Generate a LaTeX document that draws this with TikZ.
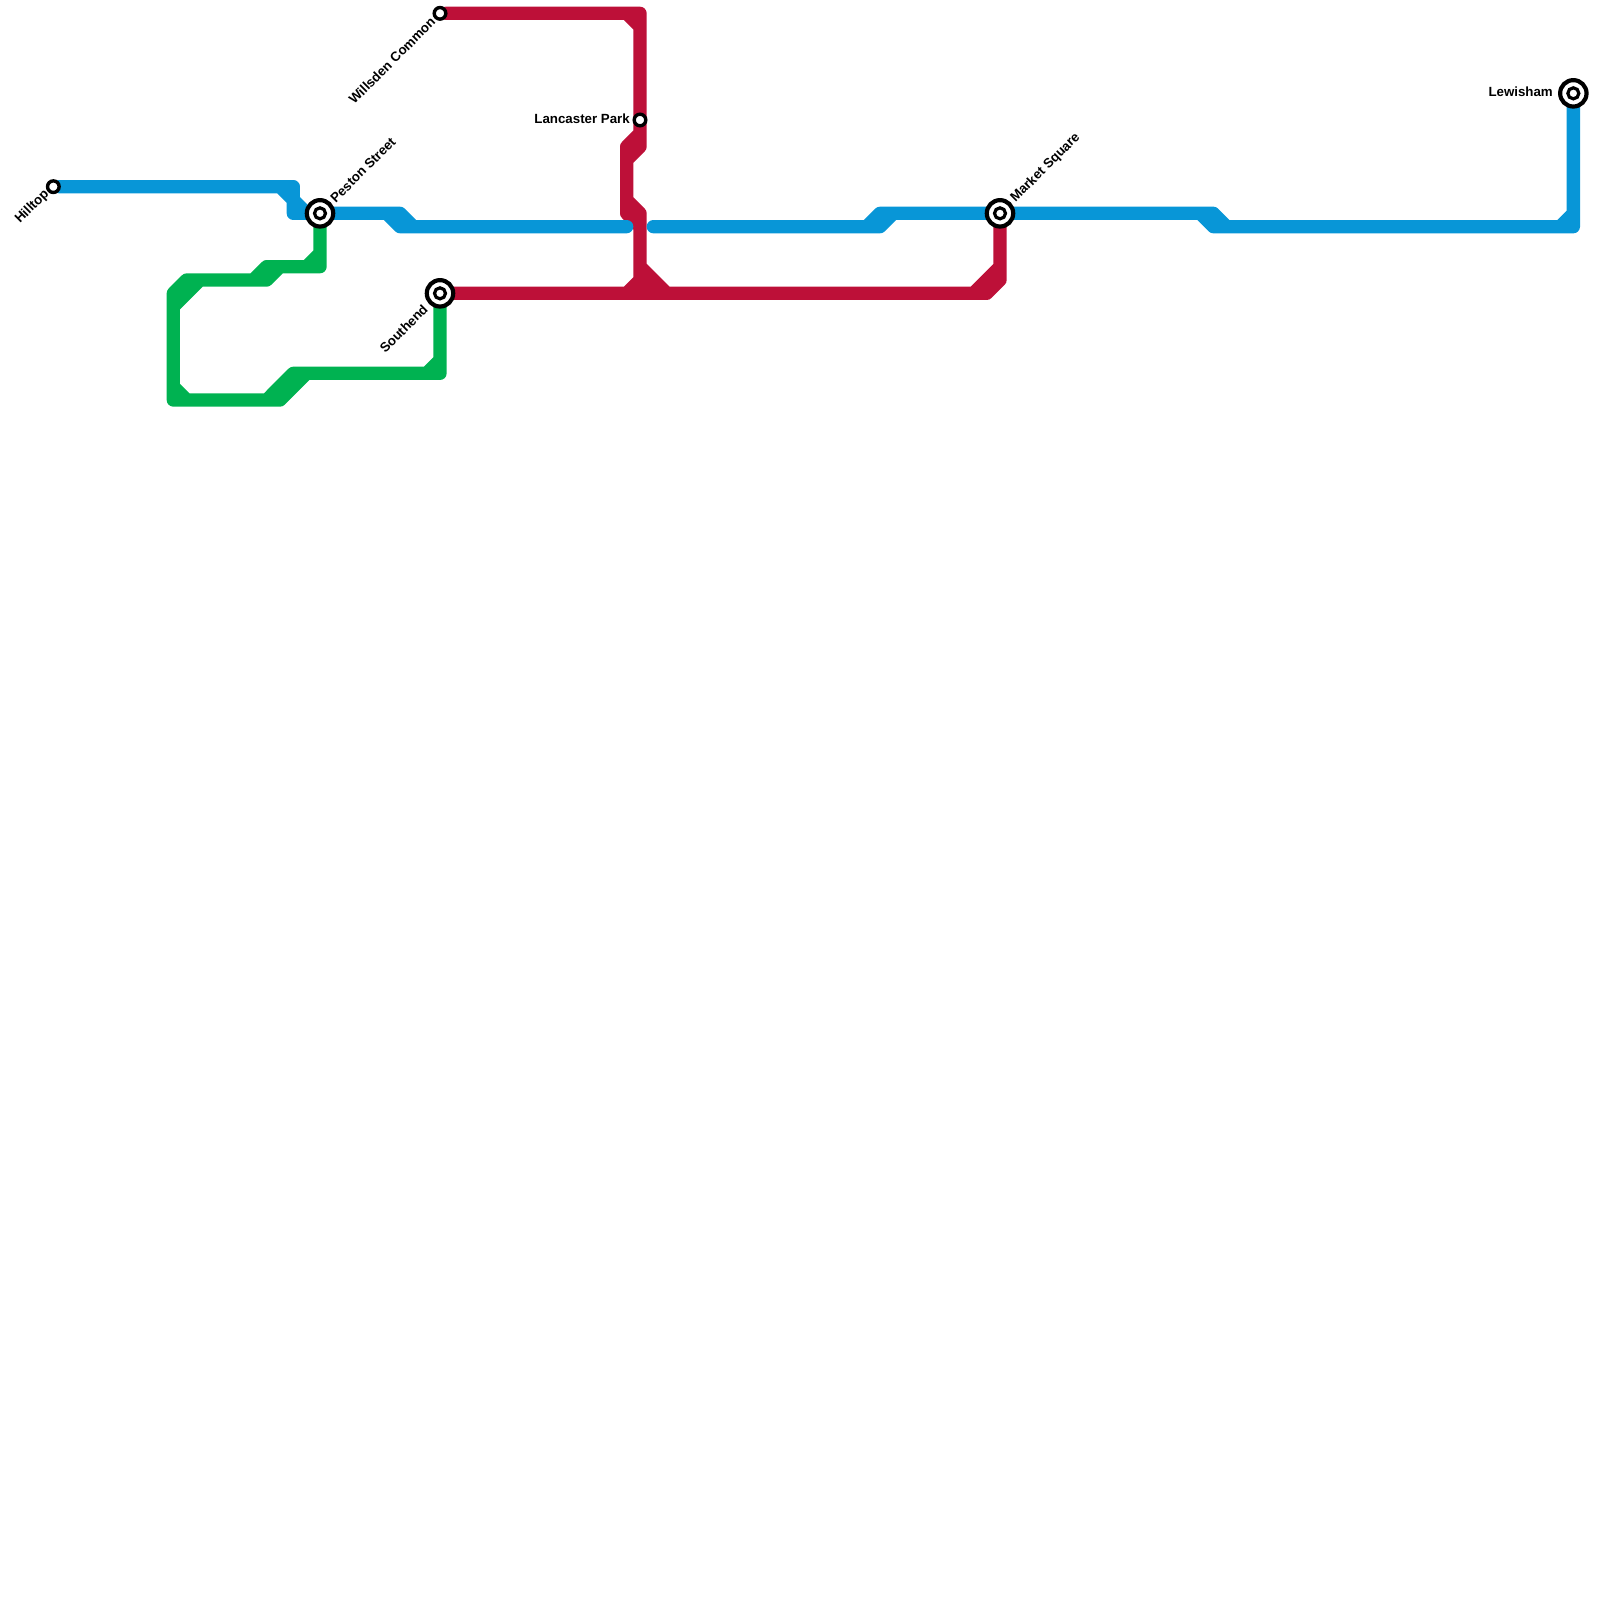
\documentclass[tikz,border=0pt]{standalone}
\usepackage{fontspec}
\setmainfont{Liberation Sans}
\usepackage{xcolor}
\usetikzlibrary{backgrounds}
\definecolor{blueCol}{RGB}{8,150,215}
\definecolor{greenCol}{RGB}{0,178,81}
\definecolor{redCol}{RGB}{189,16,56}
\tikzset{
  route/.style={line width=13.33pt, line cap=round, line join=round},
  halt/.style={circle, draw=black, fill=white, line width=3.4pt, inner sep=0pt, outer sep=0pt, minimum size=11.6pt},
  hub/.style={circle, draw=black, fill=white, line width=4.2pt, inner sep=0pt, outer sep=0pt, minimum size=26.4pt,
              path picture={\draw[black, line width=3.2pt] (path picture bounding box.center) circle (5.5pt);}},
  lbl/.style={font=\fontsize{13.3}{15}\selectfont\bfseries, inner sep=0pt, text=black},
}

\begin{document}
\begin{tikzpicture}[x=1pt,y=-1pt]
  \useasboundingbox (0,0) rectangle (1600,1600);
  % stations
  \node[halt] (hilltop)   at (53.33,186.67)   {};
  \node[halt] (willsden)  at (440,13.33)      {};
  \node[halt] (lancaster) at (640,120)        {};
  \node[hub]  (peston)    at (320,213.33)     {};
  \node[hub]  (southend)  at (440,293.33)     {};
  \node[hub]  (market)    at (1000,213.33)    {};
  \node[hub]  (lewisham)  at (1573.33,93.33)  {};
  % labels
  \node[lbl, rotate=45, anchor=east] (hilltopLbl)   at (47,192)     {Hilltop};
  \node[lbl, rotate=45, anchor=east] (willsdenLbl)  at (433,19.5)   {Willsden Common};
  \node[lbl, anchor=east]            (lancasterLbl) at (630,119)    {Lancaster Park};
  \node[lbl, rotate=45, anchor=west] (pestonLbl)    at (332.5,200.5)  {Peston Street};
  \node[lbl, rotate=45, anchor=east] (southendLbl)  at (425.5,307)  {Southend};
  \node[lbl, rotate=45, anchor=west] (marketLbl)    at (1013,200.5) {Market Square};
  \node[lbl, anchor=east]            (lewishamLbl)  at (1553,92)    {Lewisham};
  % blue bends
  \coordinate (bA) at (293.33,186.67);
  \coordinate (bB) at (280,186.67);
  \coordinate (bC) at (306.67,213.33);
  \coordinate (bD) at (293.33,213.33);
  \coordinate (bE) at (400,213.33);
  \coordinate (bF) at (413.33,226.67);
  \coordinate (bG) at (626.67,226.67);
  \coordinate (bH) at (386.67,213.33);
  \coordinate (bI) at (400,226.67);
  \coordinate (bJ) at (653.33,226.67);
  \coordinate (bK) at (880,226.67);
  \coordinate (bL) at (893.33,213.33);
  \coordinate (bM) at (866.67,226.67);
  \coordinate (bN) at (880,213.33);
  \coordinate (bO) at (1213.33,213.33);
  \coordinate (bP) at (1226.67,226.67);
  \coordinate (bQ) at (1200,213.33);
  \coordinate (bR) at (1213.33,226.67);
  \coordinate (bS) at (1573.33,226.67);
  \coordinate (bT) at (1560,226.67);
  \coordinate (bU) at (1573.33,213.33);
  % red bends
  \coordinate (rA) at (626.67,13.33);
  \coordinate (rB) at (640,13.33);
  \coordinate (rC) at (640,26.67);
  \coordinate (rD) at (640,146.67);
  \coordinate (rE) at (626.67,160);
  \coordinate (rF) at (640,133.33);
  \coordinate (rG) at (626.67,146.67);
  \coordinate (rH) at (626.67,213.33);
  \coordinate (rI) at (640,226.67);
  \coordinate (rJ) at (626.67,200);
  \coordinate (rK) at (640,213.33);
  \coordinate (rL) at (640,293.33);
  \coordinate (rM) at (640,266.67);
  \coordinate (rN) at (666.67,293.33);
  \coordinate (rO) at (640,280);
  \coordinate (rP) at (653.33,293.33);
  \coordinate (rQ) at (626.67,293.33);
  \coordinate (rR) at (986.67,293.33);
  \coordinate (rS) at (1000,280);
  \coordinate (rT) at (973.33,293.33);
  \coordinate (rU) at (1000,266.67);
  % green bends
  \coordinate (gA) at (320,266.67);
  \coordinate (gB) at (280,266.67);
  \coordinate (gC) at (266.67,280);
  \coordinate (gD) at (200,280);
  \coordinate (gE) at (173.33,306.67);
  \coordinate (gF) at (266.67,266.67);
  \coordinate (gG) at (253.33,280);
  \coordinate (gH) at (186.67,280);
  \coordinate (gI) at (173.33,293.33);
  \coordinate (gJ) at (173.33,400);
  \coordinate (gK) at (186.67,400);
  \coordinate (gL) at (173.33,386.67);
  \coordinate (gM) at (280,400);
  \coordinate (gN) at (306.67,373.33);
  \coordinate (gO) at (266.67,400);
  \coordinate (gP) at (293.33,373.33);
  \coordinate (gQ) at (440,373.33);
  \coordinate (gR) at (426.67,373.33);
  \coordinate (gS) at (440,360);
  \coordinate (gT) at (320,253.33);
  \coordinate (gU) at (306.67,266.67);

  \begin{scope}[on background layer]
    % green line
    \draw[route, greenCol] (peston) -- (gA) -- (gF) -- (gG)
      (gB) -- (gC) -- (gH) -- (gI) -- (gJ) -- (gM) -- (gN) -- (gP) -- (gO)
      (gD) -- (gE)
      (gN) -- (gQ) -- (southend)
      (gT) -- (gU)
      (gL) -- (gK)
      (gR) -- (gS);
    % red line
    \draw[route, redCol] (willsden) -- (rB) -- (rD) -- (rE)
      (rA) -- (rC)
      (rF) -- (rG) -- (rH) -- (rI)
      (rJ) -- (rK) -- (rL)
      (southend) -- (rR) -- (rS) -- (market)
      (rM) -- (rN)
      (rO) -- (rP)
      (rO) -- (rQ)
      (rT) -- (rU);
    % blue line
    \draw[route, blueCol] (hilltop) -- (bA) -- (bD) -- (peston)
      (bB) -- (bC)
      (peston) -- (bE) -- (bF) -- (bG)
      (bH) -- (bI) -- (bF)
      (bJ) -- (bK) -- (bL) -- (market)
      (bM) -- (bN) -- (bL)
      (market) -- (bO) -- (bP) -- (bS) -- (lewisham)
      (bQ) -- (bR) -- (bP)
      (bT) -- (bU);
  \end{scope}
\end{tikzpicture}
\end{document}
